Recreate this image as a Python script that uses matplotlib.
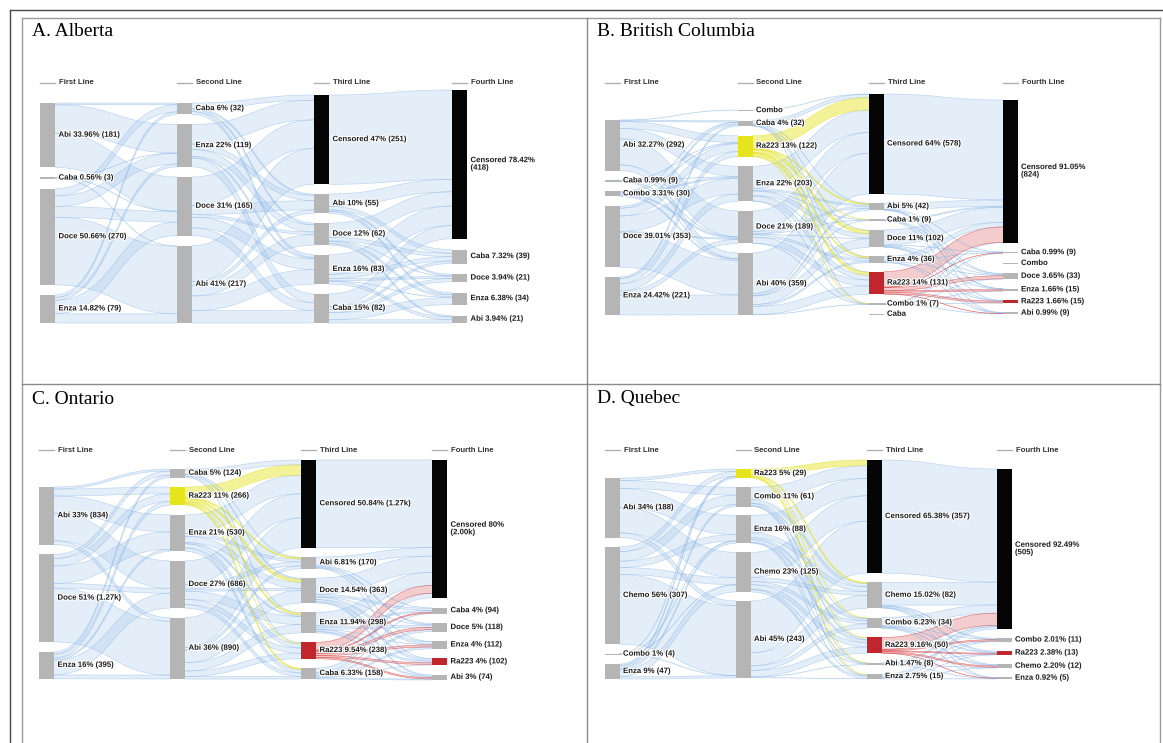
import numpy as np
import matplotlib
matplotlib.use('Agg')
import matplotlib.pyplot as plt
from matplotlib.path import Path
from matplotlib.patches import PathPatch, Rectangle
import matplotlib.patheffects as pe

# ---------------- data ----------------
# A. Alberta
ab_names = [['Abi', 'Caba', 'Doce', 'Enza'],
            ['Caba', 'Enza', 'Doce', 'Abi'],
            ['Censored', 'Abi', 'Doce', 'Enza', 'Caba'],
            ['Censored', 'Caba', 'Doce', 'Enza', 'Abi']]
ab_values = [[181, 3, 270, 79],
             [32, 119, 165, 217],
             [251, 55, 62, 83, 82],
             [418, 39, 21, 34, 21]]
ab_labels = [['Abi 33.96% (181)', 'Caba 0.56% (3)', 'Doce 50.66% (270)', 'Enza 14.82% (79)'],
             ['Caba 6% (32)', 'Enza 22% (119)', 'Doce 31% (165)', 'Abi 41% (217)'],
             ['Censored 47% (251)', 'Abi 10% (55)', 'Doce 12% (62)', 'Enza 16% (83)', 'Caba 15% (82)'],
             ['Censored 78.42%\n(418)', 'Caba 7.32% (39)', 'Doce 3.94% (21)', 'Enza 6.38% (34)', 'Abi 3.94% (21)']]
ab_flows = [
    [[5, 80, 96, 0], [0, 1, 1, 1], [20, 30, 30, 190], [7, 8, 38, 26]],
    [[15, 4, 5, 8, 0], [55, 15, 20, 4, 25], [80, 26, 7, 30, 22], [101, 10, 30, 41, 35]],
    [[251, 0, 0, 0, 0], [35, 10, 4, 6, 0], [40, 10, 2, 6, 4], [55, 12, 6, 2, 8], [37, 7, 9, 20, 9]],
]

# B. British Columbia
bc_names = [['Abi', 'Caba', 'Combo', 'Doce', 'Enza'],
            ['Combo', 'Caba', 'Ra223', 'Enza', 'Doce', 'Abi'],
            ['Censored', 'Abi', 'Caba', 'Doce', 'Enza', 'Ra223', 'Combo', 'Caba'],
            ['Censored', 'Caba', 'Combo', 'Doce', 'Enza', 'Ra223', 'Abi']]
bc_values = [[292, 9, 30, 353, 221],
             [0, 32, 122, 203, 189, 359],
             [578, 42, 9, 102, 36, 131, 7, 0],
             [824, 9, 0, 33, 15, 15, 9]]
bc_labels = [['Abi 32.27% (292)', 'Caba 0.99% (9)', 'Combo 3.31% (30)', 'Doce 39.01% (353)', 'Enza 24.42% (221)'],
             ['Combo', 'Caba 4% (32)', 'Ra223 13% (122)', 'Enza 22% (203)', 'Doce 21% (189)', 'Abi 40% (359)'],
             ['Censored 64% (578)', 'Abi 5% (42)', 'Caba 1% (9)', 'Doce 11% (102)', 'Enza 4% (36)',
              'Ra223 14% (131)', 'Combo 1% (7)', 'Caba'],
             ['Censored 91.05%\n(824)', 'Caba 0.99% (9)', 'Combo', 'Doce 3.65% (33)', 'Enza 1.66% (15)',
              'Ra223 1.66% (15)', 'Abi 0.99% (9)']]
bc_flows = [
    [[1, 8, 40, 60, 150, 33], [0, 0, 2, 3, 2, 2], [0, 2, 5, 8, 7, 8],
     [0, 12, 45, 90, 6, 200], [0, 10, 30, 42, 24, 115]],
    [[1, 0, 0, 0, 0, 0, 0, 0], [20, 2, 0, 4, 2, 3, 1, 0], [72, 6, 1, 18, 6, 17, 2, 0],
     [130, 10, 3, 25, 5, 28, 2, 0], [120, 12, 3, 5, 13, 35, 1, 0], [235, 12, 2, 50, 10, 48, 1, 0]],
    [[578, 0, 0, 0, 0, 0, 0], [36, 1, 0, 3, 1, 1, 0], [6, 0, 0, 1, 1, 0, 1],
     [87, 2, 0, 5, 4, 2, 2], [27, 2, 0, 4, 0, 1, 2], [89, 3, 0, 18, 8, 10, 3],
     [1, 1, 0, 2, 1, 1, 1], [0, 0, 0, 0, 0, 0, 0]],
]

# C. Ontario
on_names = [['Abi', 'Doce', 'Enza'],
            ['Caba', 'Ra223', 'Enza', 'Doce', 'Abi'],
            ['Censored', 'Abi', 'Doce', 'Enza', 'Ra223', 'Caba'],
            ['Censored', 'Caba', 'Doce', 'Enza', 'Ra223', 'Abi']]
on_values = [[834, 1270, 395],
             [124, 266, 530, 686, 890],
             [1270, 170, 363, 298, 238, 158],
             [2000, 94, 118, 112, 102, 74]]
on_labels = [['Abi 33% (834)', 'Doce 51% (1.27k)', 'Enza 16% (395)'],
             ['Caba 5% (124)', 'Ra223 11% (266)', 'Enza 21% (530)', 'Doce 27% (686)', 'Abi 36% (890)'],
             ['Censored 50.84% (1.27k)', 'Abi 6.81% (170)', 'Doce 14.54% (363)', 'Enza 11.94% (298)',
              'Ra223 9.54% (238)', 'Caba 6.33% (158)'],
             ['Censored 80%\n(2.00k)', 'Caba 4% (94)', 'Doce 5% (118)', 'Enza 4% (112)',
              'Ra223 4% (102)', 'Abi 3% (74)']]
on_flows = [
    [[30, 100, 250, 400, 54], [60, 110, 250, 70, 780], [34, 56, 30, 216, 56]],
    [[70, 10, 20, 12, 12, 0], [150, 20, 40, 25, 10, 21], [270, 40, 90, 20, 60, 50],
     [350, 60, 30, 120, 76, 50], [430, 40, 183, 121, 80, 37]],
    [[1270, 0, 0, 0, 0, 0], [123, 12, 15, 10, 10, 0], [238, 30, 10, 35, 30, 20],
     [188, 25, 30, 10, 25, 20], [113, 15, 35, 30, 25, 20], [65, 12, 28, 27, 12, 14]],
]

# D. Quebec
qc_names = [['Abi', 'Chemo', 'Combo', 'Enza'],
            ['Ra223', 'Combo', 'Enza', 'Chemo', 'Abi'],
            ['Censored', 'Chemo', 'Combo', 'Ra223', 'Abi', 'Enza'],
            ['Censored', 'Combo', 'Ra223', 'Chemo', 'Enza']]
qc_values = [[188, 307, 4, 47],
             [29, 61, 88, 125, 243],
             [357, 82, 34, 50, 8, 15],
             [505, 11, 13, 12, 5]]
qc_labels = [['Abi 34% (188)', 'Chemo 56% (307)', 'Combo 1% (4)', 'Enza 9% (47)'],
             ['Ra223 5% (29)', 'Combo 11% (61)', 'Enza 16% (88)', 'Chemo 23% (125)', 'Abi 45% (243)'],
             ['Censored 65.38% (357)', 'Chemo 15.02% (82)', 'Combo 6.23% (34)', 'Ra223 9.16% (50)',
              'Abi 1.47% (8)', 'Enza 2.75% (15)'],
             ['Censored 92.49%\n(505)', 'Combo 2.01% (11)', 'Ra223 2.38% (13)', 'Chemo 2.20% (12)',
              'Enza 0.92% (5)']]
qc_flows = [
    [[8, 25, 60, 80, 15], [15, 30, 20, 22, 220], [1, 0, 1, 1, 1], [5, 6, 7, 22, 7]],
    [[18, 4, 2, 2, 1, 2], [40, 10, 2, 6, 1, 2], [55, 15, 6, 8, 2, 2],
     [80, 12, 10, 14, 2, 7], [164, 41, 14, 20, 2, 2]],
    [[357, 0, 0, 0, 0], [72, 3, 4, 2, 1], [26, 1, 3, 3, 1], [38, 4, 3, 4, 1],
     [4, 1, 1, 1, 1], [8, 2, 2, 2, 1]],
]

stage_titles = ['First Line', 'Second Line', 'Third Line', 'Fourth Line']

# ---------------- style ----------------
GRAY = '#b5b5b5'
BLACK = '#050505'
YELLOW = '#e6e41c'
RED = '#c1262c'
BLUE = '#9ec3ea'
TXT = '#1c1c1c'
halo = [pe.withStroke(linewidth=1.6, foreground='white')]


def node_color(name, col):
    if name == 'Censored':
        return BLACK
    if name == 'Ra223':
        return YELLOW if col == 1 else RED
    return GRAY


def link_color(name, col):
    if name == 'Ra223' and col == 1:
        return YELLOW, 0.45, '#dede10'
    if name == 'Ra223' and col == 2:
        return '#e27a7c', 0.38, '#cf2a2e'
    return BLUE, 0.28, '#8db7e6'


def ribbon(ax, x0, x1, s0, s1, t0, t1, fc, alpha, ec):
    xm = (x0 + x1) / 2
    if s1 - s0 < 0.9:
        yc_s, yc_t = (s0 + s1) / 2, (t0 + t1) / 2
        p = Path([(x0, yc_s), (xm, yc_s), (xm, yc_t), (x1, yc_t)],
                 [Path.MOVETO, Path.CURVE4, Path.CURVE4, Path.CURVE4])
        ax.add_patch(PathPatch(p, fc='none', ec=ec, lw=0.5, alpha=0.7, zorder=2))
        return
    verts = [(x0, s0), (xm, s0), (xm, t0), (x1, t0), (x1, t1), (xm, t1), (xm, s1), (x0, s1), (x0, s0)]
    codes = [Path.MOVETO, Path.CURVE4, Path.CURVE4, Path.CURVE4, Path.LINETO,
             Path.CURVE4, Path.CURVE4, Path.CURVE4, Path.CLOSEPOLY]
    ax.add_patch(PathPatch(Path(verts, codes), fc=fc, ec='none', alpha=alpha, zorder=1))
    for a, b in ((s0, t0), (s1, t1)):
        p = Path([(x0, a), (xm, a), (xm, b), (x1, b)],
                 [Path.MOVETO, Path.CURVE4, Path.CURVE4, Path.CURVE4])
        ax.add_patch(PathPatch(p, fc='none', ec=ec, lw=0.45, alpha=0.55, zorder=2))


def draw_panel(ax, names, labels, values, flows, cols_x, tops, bottoms, scale, node_w, header_y):
    pos = []
    for c, vals in enumerate(values):
        h = np.maximum(np.array(vals, float) * scale, 1.3)
        gap = (bottoms[c] - tops[c] - h.sum()) / (len(h) - 1)
        y = tops[c]
        col = []
        for hi in h:
            col.append((y, hi))
            y += hi + gap
        pos.append(col)

    # links: plain ones first, coloured ones on top
    for layer in (0, 1):
        for c, F in enumerate(flows):
            F = np.array(F, float)
            x0 = cols_x[c] + node_w
            x1 = cols_x[c + 1]
            src_cum = np.cumsum(F, axis=1) - F
            tgt_cum = np.cumsum(F, axis=0) - F
            for i in range(F.shape[0]):
                special = names[c][i] == 'Ra223'
                if special != bool(layer):
                    continue
                fc, al, ec = link_color(names[c][i], c)
                for j in range(F.shape[1]):
                    if F[i, j] <= 0:
                        continue
                    s0 = pos[c][i][0] + src_cum[i, j] * scale
                    t0 = pos[c + 1][j][0] + tgt_cum[i, j] * scale
                    w = F[i, j] * scale
                    ribbon(ax, x0, x1, s0, s0 + w, t0, t0 + w, fc, al, ec)

    # nodes and labels
    for c in range(len(values)):
        for k, (y, h) in enumerate(pos[c]):
            ax.add_patch(Rectangle((cols_x[c], y), node_w, h, fc=node_color(names[c][k], c),
                                   ec='none', zorder=3))
            ax.text(cols_x[c] + node_w + 3.5, y + h / 2, labels[c][k], fontsize=5.6,
                    fontweight='bold', color=TXT, va='center', ha='left', linespacing=1.1,
                    family='Liberation Sans', path_effects=halo, zorder=5)
        ax.plot([cols_x[c], cols_x[c] + node_w], [header_y, header_y], color='#b0b0b0', lw=1, zorder=3)
        ax.text(cols_x[c] + node_w + 4, header_y, stage_titles[c], fontsize=5.6, fontweight='bold',
                color='#333333', va='center', ha='left', family='Liberation Sans', zorder=5)


fig = plt.figure(figsize=(11.63, 7.43), dpi=100)
ax = fig.add_axes([0, 0, 1, 1])
ax.set_xlim(0, 1163)
ax.set_ylim(743, 0)
ax.axis('off')

# frame of the figure
ax.plot([10, 1163], [10, 10], color='#4a4a4a', lw=1)
ax.plot([10, 10], [10, 743], color='#4a4a4a', lw=1)
ax.plot([22, 1160], [18, 18], color='#9a9a9a', lw=1)
ax.plot([22, 22], [18, 743], color='#9a9a9a', lw=1)
ax.plot([1160, 1160], [18, 743], color='#9a9a9a', lw=1)
ax.plot([587, 587], [18, 743], color='#8a8a8a', lw=1)
ax.plot([22, 1160], [384, 384], color='#8a8a8a', lw=1)

titles = [('A. Alberta', 32, 31), ('B. British Columbia', 597, 31),
          ('C. Ontario', 32, 399), ('D. Quebec', 597, 399)]
for t, x, y in titles:
    ax.text(x, y, t, fontsize=14, family='Liberation Serif', va='center', ha='left', color='black')

draw_panel(ax, ab_names, ab_labels, ab_values, ab_flows,
           [40, 177, 314, 452], [103, 103, 95, 90], [323, 323, 323, 323], 0.356, 15, 83)
draw_panel(ax, bc_names, bc_labels, bc_values, bc_flows,
           [605, 738, 869, 1003], [120, 110, 94, 100], [315, 315, 315, 314], 0.173, 14.5, 83)
draw_panel(ax, on_names, on_labels, on_values, on_flows,
           [39, 170, 301, 432], [487, 469, 460, 460], [679, 679, 679, 680], 0.069, 15, 450)
draw_panel(ax, qc_names, qc_labels, qc_values, qc_flows,
           [605, 736, 867, 997], [478, 469, 460, 469], [679, 678, 679, 679], 0.317, 14.5, 450)

fig.savefig('out.png', dpi=100)
